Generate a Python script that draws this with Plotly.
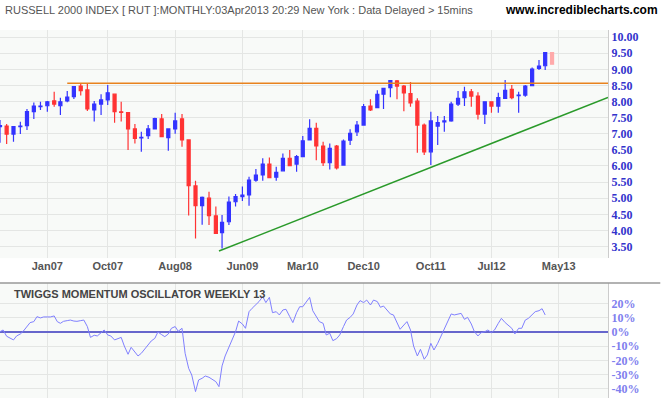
import pandas as pd
import plotly.graph_objects as go

# monthly candles Jun06 .. Apr13 (index / 100)
months = pd.date_range("2006-06-01", periods=83, freq="MS")
opens = [7.22, 7.24, 6.99, 7.22, 7.25, 7.69, 7.84, 7.87, 8.02, 7.87, 8.02, 8.15, 8.48, 8.36, 7.74, 7.92, 8.05,
         8.23, 7.68, 7.66, 7.15, 6.87, 6.94, 7.15, 7.46, 6.88, 7.15, 7.46, 6.81, 5.38, 4.77, 5.00, 4.45, 3.93,
         4.27, 4.89, 5.05, 5.10, 5.56, 5.72, 6.06, 5.65, 5.85, 6.24, 6.06, 6.29, 6.81, 7.17, 6.62, 6.10, 6.62,
         6.03, 6.80, 7.06, 7.27, 7.86, 7.81, 8.23, 8.43, 8.64, 8.48, 8.25, 8.01, 7.27, 6.44, 7.24, 7.37, 7.40,
         7.92, 8.12, 8.30, 8.17, 7.61, 7.99, 7.86, 8.10, 8.38, 8.18, 8.20, 8.49, 9.03, 9.11, 9.52]
highs = [7.43, 7.30, 7.24, 7.37, 7.77, 7.97, 7.99, 8.02, 8.30, 8.12, 8.33, 8.48, 8.57, 8.57, 8.02, 8.23, 8.51,
         8.25, 7.99, 7.67, 7.30, 7.06, 7.27, 7.50, 7.61, 7.15, 7.65, 7.61, 6.81, 5.54, 5.05, 5.20, 4.74, 4.48,
         5.05, 5.13, 5.36, 5.67, 5.91, 6.24, 6.26, 5.98, 6.39, 6.50, 6.34, 6.93, 7.45, 7.34, 6.75, 6.70, 6.65,
         6.82, 7.14, 7.40, 7.92, 8.07, 8.35, 8.41, 8.67, 8.67, 8.51, 8.61, 8.10, 7.32, 7.68, 7.55, 7.55, 7.99,
         8.33, 8.46, 8.39, 8.29, 7.99, 7.99, 8.27, 8.67, 8.51, 8.30, 8.51, 9.06, 9.29, 9.52, 9.52]
lows = [6.72, 6.68, 6.75, 6.99, 7.12, 7.46, 7.74, 7.68, 7.84, 7.58, 7.98, 8.08, 8.19, 7.71, 7.38, 7.58, 7.89,
        7.34, 7.38, 6.50, 6.70, 6.44, 6.84, 7.14, 6.89, 6.47, 7.00, 6.60, 4.46, 3.75, 4.18, 4.17, 3.89, 3.44,
        4.17, 4.74, 4.91, 4.77, 5.51, 5.54, 5.64, 5.54, 5.84, 6.00, 5.82, 6.29, 6.81, 6.18, 6.00, 5.89, 5.89,
        6.03, 6.65, 6.93, 7.27, 7.71, 7.79, 7.77, 8.13, 8.07, 7.70, 7.84, 6.41, 6.34, 6.03, 6.65, 7.06, 7.37,
        7.86, 7.86, 7.84, 7.44, 7.30, 7.65, 7.65, 8.10, 8.07, 7.65, 8.15, 8.49, 8.98, 8.98, 9.16]
closes = [7.25, 6.99, 7.22, 7.24, 7.69, 7.86, 7.86, 7.99, 7.92, 7.99, 8.14, 8.46, 8.34, 7.77, 7.92, 8.05, 8.27,
          7.69, 7.66, 7.15, 6.86, 6.89, 7.15, 7.47, 6.91, 7.15, 7.40, 6.81, 5.39, 4.77, 5.03, 4.46, 3.91, 4.25,
          4.88, 5.05, 5.10, 5.56, 5.72, 6.06, 5.64, 5.80, 6.24, 6.01, 6.29, 6.78, 7.17, 6.62, 6.10, 6.55, 5.94,
          6.77, 7.01, 7.27, 7.84, 7.74, 8.22, 8.41, 8.65, 8.48, 8.27, 7.96, 7.27, 6.44, 7.40, 7.35, 7.40, 7.92,
          8.10, 8.30, 8.17, 7.61, 7.99, 7.86, 8.12, 8.35, 8.12, 8.20, 8.48, 9.01, 9.10, 9.52, 9.16]

resistance_dates = ["2007-04-01", "2013-12-10"]
resistance_vals = [8.57, 8.57]
trend_dates = ["2009-02-15", "2013-12-10"]
trend_vals = [3.36, 8.13]

# Twiggs momentum, semi-monthly readings from Jun06
mom_dates = pd.date_range("2006-06-01", periods=163, freq="SMS")
momentum = [0.2, 1.4, -3, -4.2, -5.6, -2.8, -1.4, 0.7, 4.2, 6.6, 7.3, 10.8, 9.9, 10.6, 10.6, 10.6, 11.3, 7.3,
            6.1, 7.5, 8, 8.4, 7.7, 7.5, 8, 8.4, 3.8, -3.8, -2.3, -2.8, -0.5, 1.4, -2.1, -2.8, -5.6, -4.5, -3.8,
            -9.9, -15.7, -10.8, -13.8, -16.9, -15, -12.2, -8.4, -6.3, -4.5, 0, -1.9, -3.3, -1.4, 2.6, 3.8, 0.5,
            2.6, -15, -25.6, -30.3, -42, -33.8, -32.6, -31, -31.9, -33.3, -35, -38.5, -23.9, -16.9, -10.8, -5.6,
            0.2, 7.7, 5.6, 2.6, 14.3, 16.7, 19, 21.4, 24.9, 20.7, 24.4, 13.6, 14.3, 12, 15.5, 16, 10.8, 6.6,
            13.6, 17.8, 17.8, 20.7, 24.4, 15, 11.3, 7.3, 6.1, -2.1, -0.9, -6.1, -4.7, -2.1, 3.8, 8.4, 10.3,
            12.7, 19, 22.1, 20.7, 22.5, 19, 22.5, 21.4, 17.4, 18.3, 16, 12.7, 12, 6.1, 1.9, 4.9, 7.3, 1.4, -9.9,
            -16.9, -12.2, -19.2, -16.2, -8, -12.7, -8, -3.3, 1.4, 7.3, 12.7, 12, 12.7, 13.1, 8.9, 10.3, 5.6,
            0.2, -2.8, -0.5, 0.2, 1.4, -0.5, 1.4, 6.1, 9.6, 6.6, 4.9, 2.6, -1.4, 2.6, 2.6, 8.4, 9.6, 12, 14.3,
            15, 16.4, 12]
mom_ticks = [-40, -30, -20, -10, 0, 10, 20]
mom_labels = ["-40%", "-30%", "-20%", "-10%", "0%", "10%", "20%"]

tick_dates = ["2007-01-01", "2007-10-01", "2008-08-01", "2009-06-01", "2010-03-01",
              "2010-12-01", "2011-10-01", "2012-07-01", "2013-05-01"]
tick_text = ["Jan07", "Oct07", "Aug08", "Jun09", "Mar10", "Dec10", "Oct11", "Jul12", "May13"]

fig = go.Figure()
fig.add_trace(go.Scatter(x=resistance_dates, y=resistance_vals, mode="lines",
                         line=dict(color="#e8821e", width=1.5), hoverinfo="skip"))
fig.add_trace(go.Scatter(x=trend_dates, y=trend_vals, mode="lines",
                         line=dict(color="#2a9a2a", width=1.5), hoverinfo="skip"))
fig.add_trace(go.Candlestick(x=months[:-1], open=opens[:-1], high=highs[:-1], low=lows[:-1], close=closes[:-1],
                             increasing=dict(line=dict(color="#3333ff", width=1.2), fillcolor="#3333ff"),
                             decreasing=dict(line=dict(color="#ff3333", width=1.2), fillcolor="#ff3333"),
                             whiskerwidth=0))
fig.add_trace(go.Candlestick(x=months[-1:], open=opens[-1:], high=highs[-1:], low=lows[-1:], close=closes[-1:],
                             increasing=dict(line=dict(color="#ffaaaa", width=1.2), fillcolor="#ffaaaa"),
                             decreasing=dict(line=dict(color="#ffaaaa", width=1.2), fillcolor="#ffaaaa"),
                             whiskerwidth=0))
fig.add_trace(go.Scatter(x=mom_dates, y=momentum, mode="lines", line=dict(color="#8080ff", width=1),
                         xaxis="x2", yaxis="y2", hoverinfo="skip"))

xrange = ["2006-06-01", "2013-12-10"]
grid = "#e4e6e4"
tickfont = dict(family="Liberation Serif, DejaVu Serif", size=12, weight="bold")
fig.update_layout(
    width=665, height=405, showlegend=False,
    margin=dict(l=0, r=57, t=30, b=7, autoexpand=False),
    paper_bgcolor="white", plot_bgcolor="#f8faf8",
    font=dict(family="Arial, Liberation Sans", size=11),
    xaxis=dict(range=xrange, domain=[0, 1], anchor="y", rangeslider=dict(visible=False),
               tickvals=tick_dates, ticktext=tick_text, showgrid=True, gridcolor=grid,
               ticks="", tickfont=dict(color="#555555", size=11, family="Arial, Liberation Sans", weight="bold"),
               showline=False, zeroline=False),
    yaxis=dict(domain=[0.38, 1], range=[3.14, 10.22], side="right", dtick=0.5, tick0=3.5,
               tickformat=".2f", showgrid=True, gridcolor=grid, tickfont=dict(tickfont, color="#3333cc"),
               showline=True, linecolor="#cccccc", zeroline=False),
    xaxis2=dict(range=xrange, domain=[0, 1], anchor="y2", tickvals=tick_dates, showticklabels=False,
                showgrid=True, gridcolor=grid, zeroline=False),
    yaxis2=dict(domain=[0, 0.3125], range=[-46.5, 34.5], side="right", tickvals=mom_ticks, ticktext=mom_labels,
                showgrid=True, gridcolor=grid, zeroline=True, zerolinecolor="#6666cc", zerolinewidth=1.5,
                tickfont=dict(tickfont, color="#8080ee"),
                showline=True, linecolor="#cccccc"),
)
fig.add_shape(type="line", xref="paper", yref="paper", x0=0, x1=1.086, y0=0.3125, y1=0.3125,
              line=dict(color="#999999", width=1.5))
fig.add_annotation(text="RUSSELL 2000 INDEX [ RUT ]:MONTHLY:03Apr2013 20:29 New York : Data Delayed > 15mins",
                   xref="paper", yref="paper", x=0.005, y=1.055, xanchor="left", yanchor="middle",
                   showarrow=False, font=dict(color="#555555", size=11))
fig.add_annotation(text="<b>www.incrediblecharts.com</b>", xref="paper", yref="paper", x=1.085, y=1.055,
                   xanchor="right", yanchor="middle", showarrow=False, font=dict(color="#000000", size=12))
fig.add_annotation(text="<b>TWIGGS MOMENTUM OSCILLATOR WEEKLY 13</b>", xref="paper", yref="paper",
                   x=0.02, y=0.305, xanchor="left", yanchor="top", showarrow=False,
                   font=dict(color="#444444", size=11))

fig.write_html("out.html", config=dict(displayModeBar=False),
               post_script="document.body.style.margin='0';")
